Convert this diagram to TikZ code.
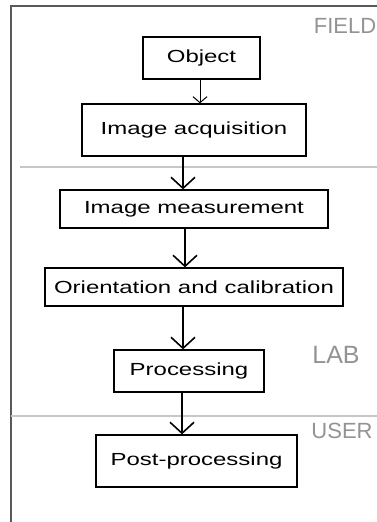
\documentclass[tikz,border=0pt]{standalone}
\usepackage{fontspec}
\setmainfont{Liberation Sans}
\usetikzlibrary{arrows.meta}
\newcommand\wtxt[1]{\scalebox{1.37}[1]{#1}}
\tikzset{
  stepbox/.style={draw=black, line width=1.3pt, inner sep=0pt, font=\fontsize{17.5}{20}\selectfont},
  flow/.style={draw=black, -{Straight Barb[length=11pt,width=24pt,line width=1.6pt]}},
  zone/.style={text=gray!85, font=\fontsize{22}{24}\selectfont},
  divider/.style={draw=black!22, line width=1.2pt},
  frame/.style={draw=black!65, line width=2pt}
}
\begin{document}
\begin{tikzpicture}[x=1pt,y=-1pt]
\useasboundingbox (0,0) rectangle (377,522);
% frame
\draw[frame] (11,522) -- (11,6) -- (377,6);
% dividers
\draw[divider] (20,167) -- (377,167);
\draw[divider] (11,416) -- (377,416);
% zone labels
\node[zone] (field) at (345,26) {FIELD};
\node[zone, font=\fontsize{25}{26}\selectfont] (lab) at (336,355) {LAB};
\node[zone] (user) at (342,431) {USER};
% boxes
\node[stepbox, minimum width=117pt, minimum height=42pt] (obj) at (201.5,58) {\wtxt{Object}};
\node[stepbox, minimum width=224pt, minimum height=52pt] (acq) at (194,130) {\wtxt{Image acquisition}};
\node[stepbox, minimum width=268pt, minimum height=38pt] (meas) at (194,209) {\wtxt{Image measurement}};
\node[stepbox, minimum width=298pt, minimum height=38pt] (ori) at (194,287) {\wtxt{Orientation and calibration}};
\node[stepbox, minimum width=150pt, minimum height=42pt] (proc) at (189,371) {\wtxt{Processing}};
\node[stepbox, minimum width=201pt, minimum height=52pt] (post) at (196.5,461) {\wtxt{Post-processing}};
% connectors
\draw[flow, line width=0.9pt, -{Straight Barb[length=6pt,width=14pt,line width=1pt]}] ([xshift=-1.5pt]obj.south) -- ([xshift=6pt]acq.north);
\draw[flow, line width=1.8pt] ([xshift=-11pt]acq.south) -- ([xshift=-11pt]meas.north);
\draw[flow, line width=2.2pt] ([xshift=-9pt]meas.south) -- ([xshift=-9pt]ori.north);
\draw[flow, line width=2.8pt] ([xshift=-11pt]ori.south) -- ([xshift=-6pt]proc.north);
\draw[flow, line width=2.4pt] ([xshift=-7pt]proc.south) -- ([xshift=-14.5pt]post.north);
\end{tikzpicture}
\end{document}
